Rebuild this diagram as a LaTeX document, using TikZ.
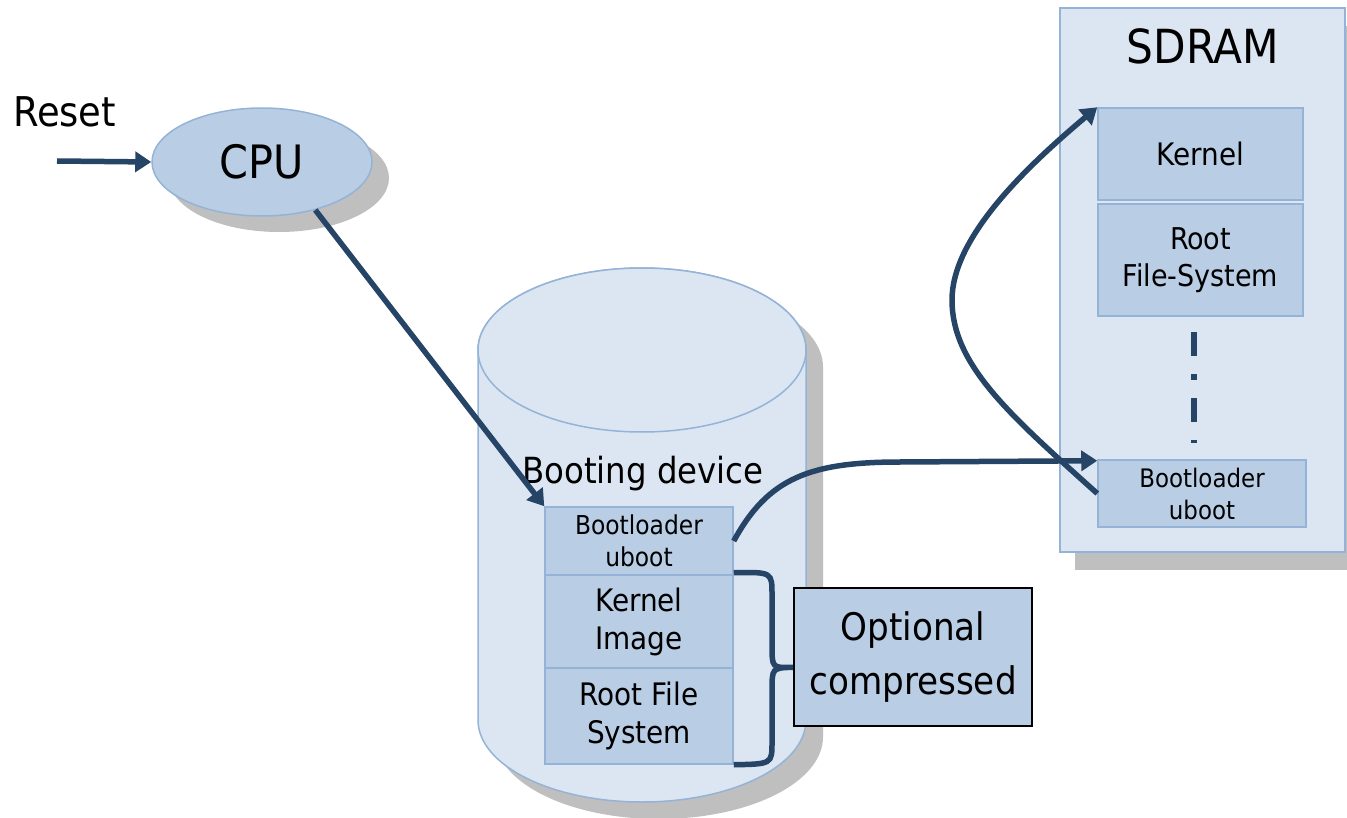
\documentclass[tikz,border=0pt]{standalone}
\usepackage{fontspec}
\setmainfont{DejaVu Sans Condensed}
\usetikzlibrary{arrows.meta,shapes.geometric,calc}

\definecolor{paleblue}{HTML}{DCE6F2}
\definecolor{boxblue}{HTML}{B9CDE5}
\definecolor{edgeblue}{HTML}{95B3D7}
\definecolor{navy}{HTML}{264466}
\definecolor{shadowgray}{HTML}{BFBFBF}

\newcommand\pxfont[2]{\fontsize{#1}{#2}\selectfont}
% outline of the booting device drum
\newcommand\drumpath{(478,350) -- (478,720) arc[start angle=180,end angle=0,x radius=164,y radius=82] -- (806,350) arc[start angle=0,end angle=-180,x radius=164,y radius=82] -- cycle}

\tikzset{
  block/.style={draw=edgeblue, fill=boxblue, line width=1.5pt, inner sep=0pt, align=center},
  link/.style={draw=navy, line width=5.5pt, -{Triangle[length=16pt,width=20pt]}},
  brace/.style={draw=navy, line width=5.5pt},
}

\begin{document}
\begin{tikzpicture}[x=1pt,y=-1pt]
\useasboundingbox (0,0) rectangle (1347,818);

% drop shadows
\fill[shadowgray] (279,178) ellipse[x radius=110,y radius=54];
\fill[shadowgray,shift={(17,17)}] \drumpath;
\fill[shadowgray] (1075,26) rectangle (1362,570);

% CPU and reset input
\node[block, ellipse, minimum width=220pt, minimum height=108pt, font=\pxfont{46}{50}] (cpu) at (262,162) {CPU};
\node[anchor=base west, inner sep=0pt, font=\pxfont{41}{46}] (reset) at (13,127) {Reset};
\coordinate (rin) at (57,161);
\draw[link] (rin) -- (cpu.west);

% booting device
\filldraw[fill=paleblue, draw=edgeblue, line width=1.5pt] \drumpath;
\filldraw[fill=paleblue, draw=edgeblue, line width=1.5pt] (642,350) ellipse[x radius=164,y radius=82];
\node[anchor=base, inner sep=0pt, font=\pxfont{36}{40}] (bootdev) at (643,483) {Booting device};

\node[block, minimum width=188pt, minimum height=68pt, font=\pxfont{26}{32}] (boot1) at (639,541) {Bootloader\\uboot};
\node[block, minimum width=188pt, minimum height=93pt, font=\pxfont{31}{38}] (kern) at (639,621.5) {Kernel\\Image};
\node[block, minimum width=188pt, minimum height=96pt, font=\pxfont{31}{38}] (rootfs) at (639,716) {Root File\\System};

\node[draw=black, fill=boxblue, line width=2pt, minimum width=238pt, minimum height=138pt, align=center, font=\pxfont{38}{54}] (opt) at (913,657) {Optional\\compressed};

% brace grouping the optional images
\coordinate (tip) at (opt.west |- rootfs.north);
\draw[brace] ([yshift=3pt]boot1.south east) .. controls (772,572) .. (772,595) -- (772,645)
  .. controls (772,668) .. (tip) .. controls (772,668) .. (772,691) -- (772,742)
  .. controls (772,764) .. (rootfs.south east);

% SDRAM
\node[draw=edgeblue, fill=paleblue, line width=1.5pt, minimum width=285pt, minimum height=544pt, inner sep=0pt] (sdram) at (1202.5,280) {};
\node[inner sep=0pt, font=\pxfont{47}{50}] (sdramlbl) at (1203,46) {SDRAM};
\node[block, minimum width=205pt, minimum height=92pt, font=\pxfont{31}{36}] (skern) at (1200.5,154) {Kernel};
\node[block, minimum width=205pt, minimum height=112pt, font=\pxfont{30}{37}] (sroot) at (1200.5,260) {Root\\File-System};
\node[block, minimum width=208pt, minimum height=67pt, font=\pxfont{25.5}{32}] (sboot) at (1202,493.5) {Bootloader\\uboot};
\draw[navy, line width=6pt, dash pattern=on 24pt off 18pt on 6pt off 18pt] (1194,332) -- (1194,443);

% transfers
\draw[link] (cpu.-42) -- (boot1.north west);
\draw[link] (boot1.east) .. controls (768,478) and (810,462) .. (900,462) -- ([yshift=-1.5pt]sboot.north west);
\draw[link] (sboot.west) .. controls (1010,415) and (952,365) .. (952,300) .. controls (952,240) and (1020,172) .. (skern.north west);
\end{tikzpicture}
\end{document}
